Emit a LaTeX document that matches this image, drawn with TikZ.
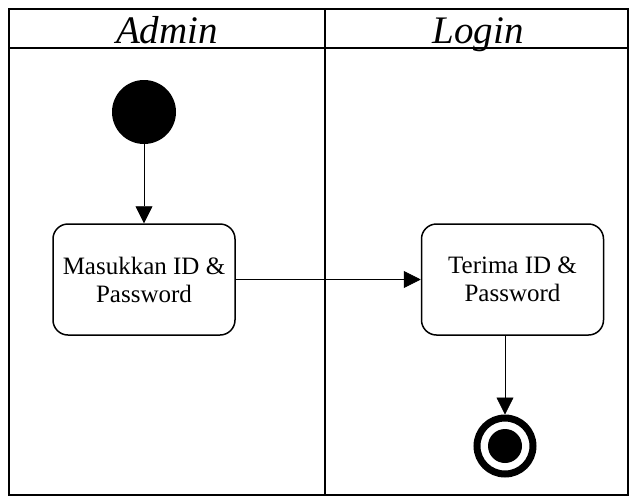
\documentclass[tikz,border=0pt]{standalone}
\usepackage{fontspec}
\setmainfont{Liberation Serif}
\usetikzlibrary{arrows.meta}

\begin{document}
\begin{tikzpicture}[x=1pt,y=-1pt,
    mulai/.style={circle,fill=black,minimum size=64pt,inner sep=0pt},
    aktivitas/.style={draw,line width=1.5pt,rounded corners=15pt,
      minimum width=182pt,minimum height=111pt,align=center,
      font=\fontsize{25}{28}\selectfont},
    akhir/.style={circle,draw,line width=7pt,minimum size=56pt,inner sep=0pt,
      path picture={\fill (path picture bounding box.center) circle (17pt);}},
    judul/.style={anchor=base,inner sep=0pt,font=\fontsize{39}{40}\selectfont\itshape},
    alur/.style={line width=0.8pt,-{Triangle[length=17pt,width=17pt]}}]
  \useasboundingbox (0,0) rectangle (638,499);
  % swimlane
  \draw[line width=2pt] (9,9) rectangle (628,495);
  \draw[line width=2pt] (9,48) -- (628,48);
  \draw[line width=2pt] (325,9) -- (325,495);
  \node[judul] (admin) at (167,43) {Admin};
  \node[judul] (login) at (478,43) {Login};
  % aktivitas
  \node[mulai] (awal) at (144,112) {};
  \node[aktivitas] (masukkan) at (144,279.5) {Masukkan ID \&\\Password};
  \node[aktivitas] (terima) at (512.5,279.5) {Terima ID \&\\Password};
  \node[akhir] (selesai) at (505,446) {};
  % alur
  \draw[alur] (awal) -- (masukkan.north);
  \draw[alur] (masukkan.east) -- (terima.west);
  \draw[alur] (terima.south -| selesai) -- (selesai.north);
\end{tikzpicture}
\end{document}
